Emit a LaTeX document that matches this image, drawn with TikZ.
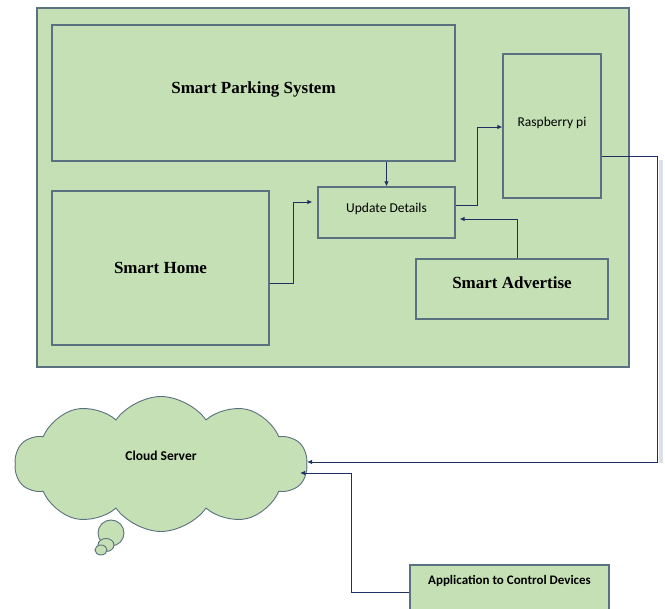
\documentclass[tikz,border=0pt]{standalone}
\usepackage{fontspec}
\setmainfont{Liberation Serif}
\newfontfamily\calibri{Carlito}
\usepackage{xcolor}
\usetikzlibrary{arrows.meta, shapes.symbols}
\definecolor{boxgreen}{HTML}{C5E0B4}
\definecolor{boxline}{HTML}{5A7180}
\definecolor{linknavy}{HTML}{1F3060}
\definecolor{shadowgrey}{HTML}{DCE0E8}

\begin{document}
\begin{tikzpicture}[x=1pt, y=-1pt,
  block/.style={draw=boxline, fill=boxgreen, line width=1.2pt, inner sep=0pt},
  serifbold/.style={font=\fontsize{17}{20}\selectfont\bfseries},
  sanslabel/.style={font=\calibri\fontsize{13.5}{16}\selectfont},
  link/.style={draw=linknavy, line width=0.9pt, -{Latex[length=5pt,width=4.5pt]}}]
\useasboundingbox (0,0) rectangle (665,609);
% outer frame
\node[block, minimum width=592pt, minimum height=359pt] (frame) at (333,187.5) {};
% boxes inside the frame
\node[block, serifbold, minimum width=403pt, minimum height=136pt, text depth=10pt] (park) at (253.5,93) {Smart Parking System};
\node[block, sanslabel, minimum width=98pt, minimum height=144pt, text depth=8pt] (rasp) at (552,126) {Raspberry pi};
\node[block, sanslabel, minimum width=137pt, minimum height=51pt, text depth=10pt] (upd) at (386.5,212.5) {Update Details};
\node[block, serifbold, minimum width=217pt, minimum height=154pt] (home) at (160.5,268) {Smart Home};
\node[block, serifbold, minimum width=192pt, minimum height=60pt, text depth=12pt] (adv) at (512,289) {Smart Advertise};
% shadow beside the long line
\draw[shadowgrey, line width=4pt] (661,160) -- (661,463);
% cloud with its bubbles
\draw[block, line width=0.9pt] (111,533) circle (13pt);
\draw[block, line width=0.9pt] (106,545) ellipse (8pt and 6.5pt);
\draw[block, line width=0.9pt] (101,550) ellipse (6pt and 5pt);
\node[block, line width=0.9pt, cloud, cloud puffs=10, cloud puff arc=110, aspect=2.2,
  minimum width=292pt, minimum height=135pt,
  font=\calibri\bfseries\fontsize{13.5}{16}\selectfont, text depth=16pt] (cloud) at (161,464) {Cloud Server};
% application box, cut by the page edge
\node[block, minimum width=199pt, minimum height=60pt, text depth=30pt,
  font=\calibri\bfseries\fontsize{13}{16}\selectfont] (app) at (509.5,595) {Application to Control Devices};
% connectors
\draw[link] (park.south -| upd.north) -- (upd.north);
\draw[link, shorten >=5pt] ([yshift=-15pt]home.east) -- ++(24,0) |- ([yshift=10.5pt]upd.west);
\draw[link] ([yshift=7.5pt]upd.east) -- ++(22,0) |- ([yshift=-1pt]rasp.west);
\draw[link, shorten >=4pt] ([xshift=5pt]adv.north) |- ([yshift=-6.5pt]upd.east);
\draw[link] ([yshift=-30pt]rasp.east) -- ++(56,0) |- ([yshift=2pt]cloud.east);
\draw[link] ([yshift=3pt]app.west) -- ++(-58,0) |- ([shift={(-7pt,-9pt)}]cloud.east);
\end{tikzpicture}
\end{document}
